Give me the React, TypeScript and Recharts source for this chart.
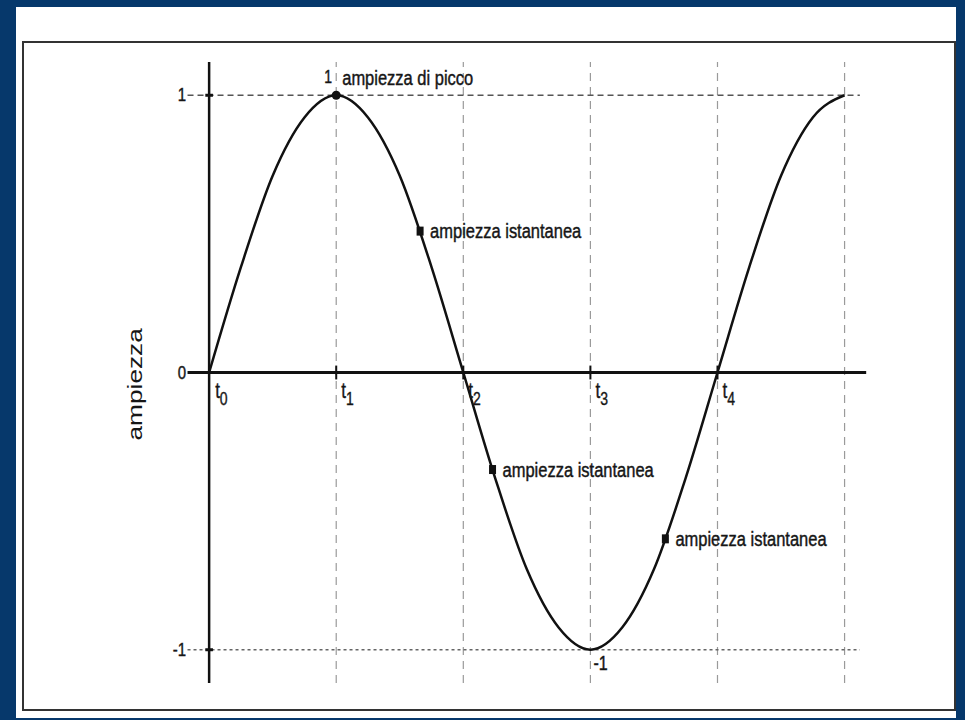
import React from 'react';
import { LineChart, Line, XAxis, YAxis, ReferenceLine, ReferenceDot } from 'recharts';

// tempo (in unità t) e ampiezza
const TIMES = [0, 0.25, 0.5, 0.75, 1, 1.25, 1.5, 1.75, 2, 2.25, 2.5, 2.75, 3, 3.25, 3.5, 3.75, 4, 4.25, 4.5, 4.75, 5];
const AMPLITUDE = [0, 0.38, 0.71, 0.92, 1, 0.92, 0.71, 0.38, 0, -0.38, -0.71, -0.92, -1, -0.92, -0.71, -0.38, 0, 0.38, 0.71, 0.92, 1];

const GRID_TIMES = [1, 2, 3, 4, 5];
const TICK_TIMES = [0, 1, 2, 3, 4];
const TICK_NAMES = ['0', '1', '2', '3', '4'];
const LEVELS = [1, 0, -1];
const LEVEL_NAMES = ['1', '0', '-1'];

const PEAK_T = 1;
const PEAK_A = 1;
const TROUGH_T = 3;
const TROUGH_A = -1;
const SAMPLE_TIMES = [1.66, 2.23, 3.59];
const SAMPLE_VALUES = [0.51, -0.35, -0.6];

const FONT = "'Liberation Sans', Arial, Helvetica, sans-serif";
const INK = '#161616';
// la scansione originale è allungata in verticale
const STRETCH = 1.25;

const data = TIMES.map((t, i) => ({ t, a: AMPLITUDE[i] }));

function Stretched({ x, y, size, anchor = 'start', children }: any) {
  return (
    <text
      transform={`translate(${x},${y}) scale(1,${STRETCH})`}
      fontSize={size}
      fontFamily={FONT}
      fill={INK}
      stroke={INK}
      strokeWidth={0.35}
      textAnchor={anchor}
    >
      {children}
    </text>
  );
}

const square = (cx: number, cy: number) => (
  <rect x={cx - 3.5} y={cy - 4.5} width={7} height={9} fill="#111" />
);

export default function App() {
  return (
    <div style={{ position: 'absolute', left: 0, top: 0, width: 965, height: 720, background: '#06386b', overflow: 'hidden' }}>
      <div style={{ position: 'absolute', left: 16, top: 7, width: 940, height: 711, background: '#fff' }} />
      <div style={{ position: 'absolute', left: 22, top: 41, width: 930, height: 666, border: '2px solid #333' }} />
      <div style={{ position: 'absolute', left: 0, top: 0 }}>
        <LineChart width={965} height={720} data={data} margin={{ top: 62, right: 95, bottom: 37, left: 171 }}>
          <XAxis type="number" dataKey="t" domain={[-0.3, 5.2]} hide allowDataOverflow />
          <YAxis type="number" domain={[-1.12, 1.12]} hide allowDataOverflow />

          {GRID_TIMES.map((t) => (
            <ReferenceLine key={`g${t}`} x={t} stroke="#9a9a9a" strokeWidth={1.2} strokeDasharray="8 6" />
          ))}
          <ReferenceLine segment={[{ x: -0.17, y: 1 }, { x: 5.12, y: 1 }]} stroke="#555" strokeWidth={1.3} strokeDasharray="6 4" />
          <ReferenceLine segment={[{ x: -0.17, y: -1 }, { x: 5.12, y: -1 }]} stroke="#666" strokeWidth={1.3} strokeDasharray="3 3" />

          <ReferenceLine segment={[{ x: 0, y: 1.12 }, { x: 0, y: -1.12 }]} stroke="#111" strokeWidth={2.5} />
          <ReferenceLine segment={[{ x: -0.17, y: 0 }, { x: 5.17, y: 0 }]} stroke="#111" strokeWidth={3} />
          {TICK_TIMES.slice(1).map((t) => (
            <ReferenceLine key={`xt${t}`} segment={[{ x: t, y: -0.025 }, { x: t, y: 0.025 }]} stroke="#111" strokeWidth={2} />
          ))}
          {[1, -1].map((v) => (
            <ReferenceLine key={`yt${v}`} segment={[{ x: -0.03, y: v }, { x: 0.03, y: v }]} stroke="#111" strokeWidth={3} />
          ))}

          <Line type="monotone" dataKey="a" stroke="#111" strokeWidth={2.5} dot={false} isAnimationActive={false} />

          {TICK_TIMES.map((t, i) => (
            <ReferenceDot
              key={`tl${t}`}
              x={t}
              y={0}
              r={0}
              shape={(p: any) => (
                <text
                  transform={`translate(${p.cx + (i === 0 ? 6 : 5)},${p.cy + 25}) scale(1,${STRETCH})`}
                  fontSize={17}
                  fontFamily={FONT}
                  fill={INK}
                  stroke={INK}
                  strokeWidth={0.3}
                >
                  t<tspan fontSize={14} dy={6}>{TICK_NAMES[i]}</tspan>
                </text>
              )}
            />
          ))}

          {LEVELS.map((v, i) => (
            <ReferenceDot
              key={`lv${v}`}
              x={0}
              y={v}
              r={0}
              shape={(p: any) => (
                <Stretched x={p.cx - 23} y={p.cy + 6} size={15} anchor="end">
                  {LEVEL_NAMES[i]}
                </Stretched>
              )}
            />
          ))}

          <ReferenceDot
            x={0}
            y={0}
            r={0}
            shape={(p: any) => (
              <text
                transform={`translate(${p.cx - 67},${p.cy + 68}) scale(1,${STRETCH}) rotate(-90)`}
                fontSize={21}
                fontFamily={FONT}
                fill={INK}
              >
                ampiezza
              </text>
            )}
          />

          <ReferenceDot
            x={PEAK_T}
            y={PEAK_A}
            r={0}
            shape={(p: any) => (
              <g>
                <circle cx={p.cx} cy={p.cy} r={4.5} fill="#111" />
                <Stretched x={p.cx - 12} y={p.cy - 12} size={14}>1</Stretched>
                <Stretched x={p.cx + 6} y={p.cy - 10} size={16.5}>ampiezza di picco</Stretched>
              </g>
            )}
          />

          <ReferenceDot
            x={TROUGH_T}
            y={TROUGH_A}
            r={0}
            shape={(p: any) => (
              <Stretched x={p.cx + 3} y={p.cy + 20} size={16}>-1</Stretched>
            )}
          />

          {SAMPLE_TIMES.map((t, i) => (
            <ReferenceDot
              key={`s${t}`}
              x={t}
              y={SAMPLE_VALUES[i]}
              r={0}
              shape={(p: any) => (
                <g>
                  {square(p.cx, p.cy)}
                  <Stretched x={p.cx + 10} y={p.cy + 7} size={16.5}>ampiezza istantanea</Stretched>
                </g>
              )}
            />
          ))}
        </LineChart>
      </div>
    </div>
  );
}
